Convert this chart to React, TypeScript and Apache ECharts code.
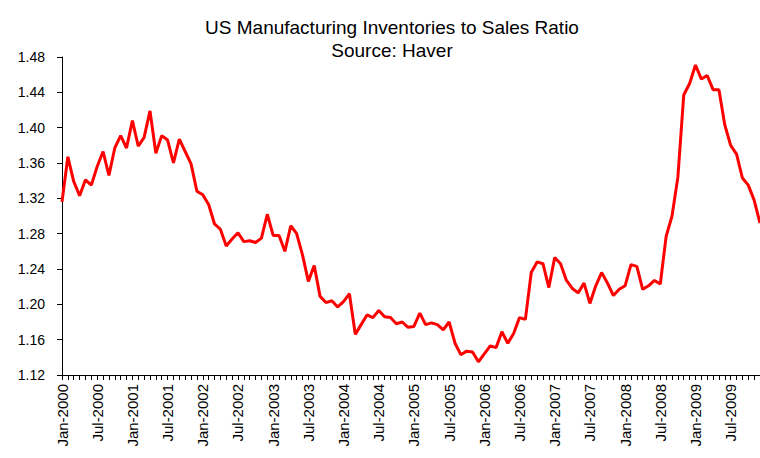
import React, { useEffect, useRef } from "react";
import * as echarts from "echarts";

const MONTHS = ["Jan", "Feb", "Mar", "Apr", "May", "Jun", "Jul", "Aug", "Sep", "Oct", "Nov", "Dec"];
const YEARS = [2000, 2001, 2002, 2003, 2004, 2005, 2006, 2007, 2008, 2009];
const categories: string[] = [];
YEARS.forEach((y) => MONTHS.forEach((m) => categories.push(`${m}-${y}`)));

const ratio = [
  1.316, 1.367, 1.339, 1.323, 1.341, 1.335, 1.356, 1.373, 1.346, 1.377, 1.391, 1.377,
  1.408, 1.379, 1.389, 1.419, 1.371, 1.391, 1.386, 1.360, 1.387, 1.373, 1.359, 1.328,
  1.324, 1.313, 1.291, 1.285, 1.266, 1.274, 1.281, 1.271, 1.272, 1.270, 1.275, 1.302,
  1.278, 1.278, 1.260, 1.289, 1.280, 1.256, 1.226, 1.244, 1.209, 1.202, 1.204, 1.197,
  1.203, 1.212, 1.166, 1.177, 1.188, 1.185, 1.193, 1.186, 1.185, 1.178, 1.180, 1.174,
  1.175, 1.190, 1.177, 1.179, 1.177, 1.171, 1.180, 1.156, 1.143, 1.147, 1.146, 1.135,
  1.144, 1.153, 1.151, 1.169, 1.156, 1.167, 1.185, 1.183, 1.236, 1.248, 1.246, 1.219,
  1.253, 1.246, 1.227, 1.218, 1.213, 1.224, 1.201, 1.221, 1.236, 1.224, 1.210, 1.217,
  1.221, 1.245, 1.243, 1.217, 1.221, 1.227, 1.223, 1.277, 1.300, 1.344, 1.437, 1.450,
  1.471, 1.455, 1.459, 1.443, 1.443, 1.403, 1.380, 1.370, 1.343, 1.335, 1.318, 1.292,
];

const TITLE = "US Manufacturing Inventories to Sales Ratio";
const SUBTITLE = "Source: Haver";
const Y_MIN = 1.12;
const Y_MAX = 1.48;
const Y_STEP = 0.04;

const FONT = "'Liberation Sans', Arial, sans-serif";

export default function App() {
  const ref = useRef<HTMLDivElement>(null);
  useEffect(() => {
    document.body.style.margin = "0";
    if (!ref.current) return;
    const chart = echarts.init(ref.current, undefined, { renderer: "svg" });
    chart.setOption({
      animation: false,
      backgroundColor: "#ffffff",
      title: {
        text: TITLE + "\n" + SUBTITLE,
        left: 387,
        top: 11,
        textAlign: "center",
        textStyle: {
          fontFamily: FONT,
          fontSize: 19,
          fontWeight: "normal",
          color: "#000",
          lineHeight: 23,
        },
      },
      grid: { left: 62, right: 0, top: 57, bottom: 83, containLabel: false },
      xAxis: {
        type: "category",
        data: categories,
        boundaryGap: false,
        axisLine: { lineStyle: { color: "#000", width: 1 } },
        axisTick: { show: true, interval: 0, length: 5, lineStyle: { color: "#000" } },
        axisLabel: {
          interval: 5,
          rotate: 90,
          margin: 9,
          fontFamily: FONT,
          fontSize: 15,
          color: "#000",
        },
        splitLine: { show: false },
      },
      yAxis: {
        type: "value",
        min: Y_MIN,
        max: Y_MAX,
        interval: Y_STEP,
        axisLine: { show: true, lineStyle: { color: "#000", width: 1 } },
        axisTick: { show: true, length: 5, lineStyle: { color: "#000" } },
        axisLabel: {
          margin: 17,
          fontFamily: FONT,
          fontSize: 14,
          color: "#000",
          formatter: (v: number) => v.toFixed(2),
        },
        splitLine: { show: false },
      },
      series: [
        {
          type: "line",
          data: ratio,
          showSymbol: false,
          symbol: "none",
          lineStyle: { color: "#ff0000", width: 3 },
          itemStyle: { color: "#ff0000" },
        },
      ],
    });
    return () => chart.dispose();
  }, []);
  return <div ref={ref} style={{ width: 760, height: 458 }} />;
}
